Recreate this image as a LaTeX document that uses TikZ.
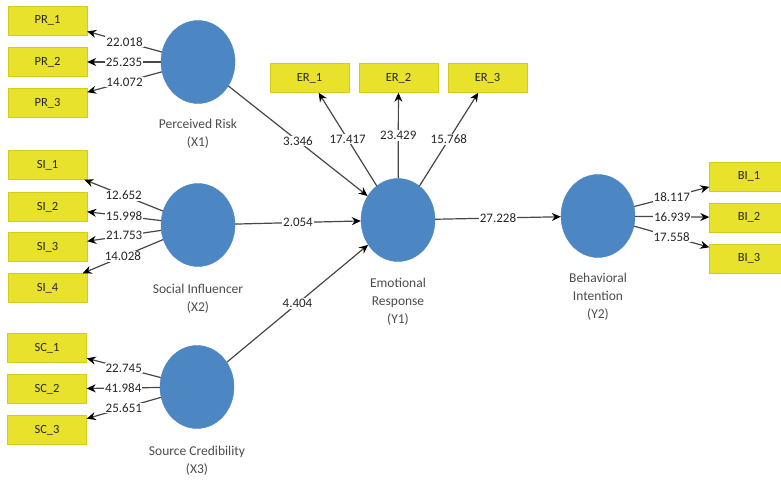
\documentclass[tikz,border=0pt]{standalone}
\usepackage{fontspec}
\setmainfont{Carlito}
\usetikzlibrary{shapes.geometric,arrows.meta}
\definecolor{ylw}{HTML}{E8E22C}
\definecolor{ylwb}{HTML}{D2CC1E}
\definecolor{lv}{HTML}{4C87C4}
\begin{document}
\begin{tikzpicture}[x=1pt,y=-1pt,
 ind/.style={draw=ylwb, fill=ylw, minimum width=79pt, minimum height=29pt, inner sep=0pt, font=\fontsize{12.5}{14}\selectfont, text=black!85},
 lat/.style={ellipse, fill=lv, draw=lv, minimum width=74pt, minimum height=83pt, inner sep=0pt},
 lbl/.style={align=center, font=\fontsize{13.5}{18}\selectfont, text=black!70},
 con/.style={draw=black!72, line width=1.2pt, -{Stealth[length=9pt,width=8pt,color=black]}},
 val/.style={fill=white, inner sep=1pt, font=\fontsize{13}{14}\selectfont, text=black!85}]
\clip (0,0) rectangle (781,479);
\fill[white] (0,0) rectangle (781,479);
% indicator boxes
\node[ind] (pr1) at (47.5,20.5) {PR\_1};
\node[ind] (pr2) at (47.5,62) {PR\_2};
\node[ind] (pr3) at (47.5,103) {PR\_3};
\node[ind] (si1) at (47.5,165) {SI\_1};
\node[ind] (si2) at (47.5,207) {SI\_2};
\node[ind] (si3) at (47.5,247) {SI\_3};
\node[ind] (si4) at (47.5,288) {SI\_4};
\node[ind] (sc1) at (47,348) {SC\_1};
\node[ind] (sc2) at (47,389) {SC\_2};
\node[ind] (sc3) at (47,430) {SC\_3};
\node[ind] (er1) at (309.5,78) {ER\_1};
\node[ind] (er2) at (398.5,78) {ER\_2};
\node[ind] (er3) at (487.5,78) {ER\_3};
\node[ind] (bi1) at (749,176.5) {BI\_1};
\node[ind] (bi2) at (749,217.5) {BI\_2};
\node[ind] (bi3) at (749,258.5) {BI\_3};
% latent variables
\node[lat] (x1) at (198,62) {};
\node[lat] (x2) at (198,225) {};
\node[lat] (x3) at (197,387) {};
\node[lat] (y1) at (398,220) {};
\node[lat] (y2) at (598,216) {};
\node[lbl] (x1l) at (198,134) {Perceived Risk\\(X1)};
\node[lbl] (x2l) at (198,298.5) {Social Influencer\\(X2)};
\node[lbl] (x3l) at (197,461) {Source Credibility\\(X3)};
\node[lbl] (y1l) at (398,301.5) {Emotional\\Response\\(Y1)};
\node[lbl] (y2l) at (598,297) {Behavioral\\Intention\\(Y2)};
% outer model
\draw[con] (x1) -- node[val,midway]{22.018} (pr1);
\draw[con] (x1) -- node[val,midway]{25.235} (pr2);
\draw[con] (x1) -- node[val,midway]{14.072} (pr3);
\draw[con] (x2) -- node[val,midway]{12.652} (si1);
\draw[con] (x2) -- node[val,midway]{15.998} (si2);
\draw[con] (x2) -- node[val,midway]{21.753} (si3);
\draw[con] (x2) -- node[val,midway]{14.028} (si4);
\draw[con] (x3) -- node[val,midway]{22.745} (sc1);
\draw[con] (x3) -- node[val,midway]{41.984} (sc2);
\draw[con] (x3) -- node[val,midway]{25.651} (sc3);
\draw[con] (y1) -- node[val,midway]{17.417} (er1);
\draw[con] (y1) -- node[val,midway]{23.429} (er2);
\draw[con] (y1) -- node[val,midway]{15.768} (er3);
\draw[con] (y2) -- node[val,midway]{18.117} (bi1);
\draw[con] (y2) -- node[val,midway]{16.939} (bi2);
\draw[con] (y2) -- node[val,midway]{17.558} (bi3);
% inner model
\draw[con] (x1) -- node[val,midway]{3.346} (y1);
\draw[con] (x2) -- node[val,midway]{2.054} (y1);
\draw[con] (x3) -- node[val,midway]{4.404} (y1);
\draw[con] (y1) -- node[val,midway]{27.228} (y2);
\end{tikzpicture}
\end{document}
